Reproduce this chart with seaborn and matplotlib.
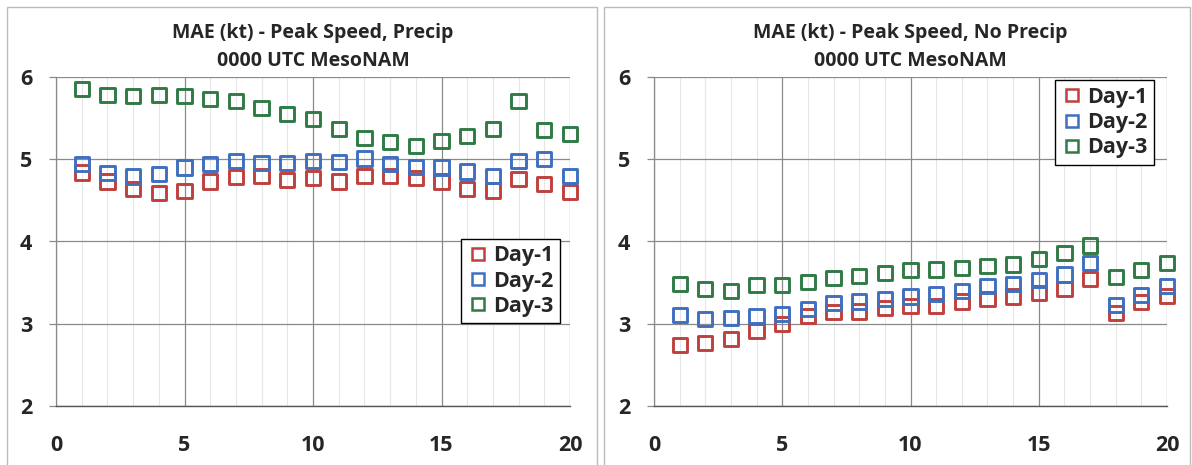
import numpy as np
import pandas as pd
import matplotlib
matplotlib.use("Agg")
import matplotlib.pyplot as plt
from matplotlib.patches import Rectangle
from matplotlib.lines import Line2D
from matplotlib.ticker import MultipleLocator
from matplotlib import font_manager
import seaborn as sns

hours = list(range(1, 21))
series_names = ["Day-1", "Day-2", "Day-3"]

precip_day1 = [4.84, 4.73, 4.64, 4.59, 4.61, 4.73, 4.78, 4.80, 4.75, 4.77,
               4.73, 4.80, 4.80, 4.77, 4.73, 4.64, 4.62, 4.76, 4.70, 4.60]
precip_day2 = [4.94, 4.83, 4.79, 4.82, 4.90, 4.94, 4.98, 4.95, 4.95, 4.98,
               4.97, 5.01, 4.94, 4.91, 4.90, 4.85, 4.80, 4.98, 5.00, 4.80]
precip_day3 = [5.85, 5.78, 5.77, 5.78, 5.77, 5.73, 5.71, 5.62, 5.55, 5.49,
               5.37, 5.26, 5.21, 5.16, 5.22, 5.28, 5.37, 5.71, 5.36, 5.31]

noprecip_day1 = [2.74, 2.77, 2.81, 2.91, 3.00, 3.09, 3.14, 3.15, 3.19, 3.22,
                 3.22, 3.27, 3.30, 3.33, 3.37, 3.42, 3.54, 3.13, 3.26, 3.34]
noprecip_day2 = [3.11, 3.06, 3.07, 3.09, 3.12, 3.18, 3.25, 3.27, 3.30, 3.33,
                 3.36, 3.40, 3.46, 3.48, 3.53, 3.60, 3.74, 3.23, 3.35, 3.46]
noprecip_day3 = [3.48, 3.42, 3.40, 3.47, 3.47, 3.51, 3.56, 3.58, 3.62, 3.65,
                 3.66, 3.68, 3.70, 3.72, 3.79, 3.86, 3.95, 3.57, 3.65, 3.74]

titles = ["MAE (kt) - Peak Speed, Precip\n0000 UTC MesoNAM",
          "MAE (kt) - Peak Speed, No Precip\n0000 UTC MesoNAM"]
x_ticks = [0, 5, 10, 15, 20]
y_ticks = [2, 3, 4, 5, 6]

colors = {"Day-1": "#C0403D", "Day-2": "#3F6FBF", "Day-3": "#2F7A45"}


def to_long(d1, d2, d3):
    frames = []
    for name, vals in zip(series_names, [d1, d2, d3]):
        frames.append(pd.DataFrame({"hour": hours, "mae": vals, "series": name}))
    return pd.concat(frames, ignore_index=True)


sns.set_theme(style="white")
plt.rcParams["font.family"] = ["Open Sans", "DejaVu Sans"]
FONT = "Open Sans"

fig = plt.figure(figsize=(11.92, 4.65), dpi=100)
W, H = 1192, 465

# panel frames
for (x0, x1) in [(7, 597), (604, 1190)]:
    fig.patches.append(Rectangle((x0 / W, -0.01), (x1 - x0) / W, (H - 7) / H + 0.01,
                                 transform=fig.transFigure, fill=False,
                                 edgecolor="#BBBBBB", linewidth=1.0))

ax_pos = [[56 / W, 59 / H, 514 / W, 329 / H],
          [654 / W, 59 / H, 513 / W, 329 / H]]
data_sets = [to_long(precip_day1, precip_day2, precip_day3),
             to_long(noprecip_day1, noprecip_day2, noprecip_day3)]
leg_anchor = [(0.98, 0.508), (0.975, 0.99)]


def fp(size):
    return font_manager.FontProperties(family=FONT, weight="bold", size=size)


for i in range(2):
    ax = fig.add_axes(ax_pos[i])
    sns.scatterplot(data=data_sets[i], x="hour", y="mae", hue="series",
                    palette=colors, marker="s", s=105,
                    linewidth=2.1, ax=ax, zorder=3, legend=False)
    for coll in ax.collections:
        fc = coll.get_facecolors()
        coll.set_edgecolors(fc)
        coll.set_facecolor("none")
        coll.set_clip_on(False)
    ax.set_xlim(0, 20)
    ax.set_ylim(2, 6)
    ax.set_xticks(x_ticks)
    ax.set_yticks(y_ticks)
    ax.xaxis.set_minor_locator(MultipleLocator(1))
    ax.grid(True, which="major", color="#8A8A8A", linewidth=0.9)
    ax.grid(True, which="minor", axis="x", color="#E6E6E6", linewidth=0.8)
    ax.set_axisbelow(True)
    for side in ["top", "right"]:
        ax.spines[side].set_visible(False)
    ax.spines["left"].set_color("#8A8A8A")
    ax.spines["bottom"].set_color("#555555")
    ax.spines["left"].set_linewidth(0.9)
    ax.spines["bottom"].set_linewidth(1.0)
    ax.tick_params(axis="y", which="major", left=True, length=5, width=0.9,
                   color="#8A8A8A", pad=12)
    ax.tick_params(axis="x", which="both", bottom=False, pad=15)
    for lab in ax.get_xticklabels() + ax.get_yticklabels():
        lab.set_fontproperties(fp(15.5))
    ax.set_xlabel("")
    ax.set_ylabel("")
    ax.set_title(titles[i], fontproperties=fp(14), pad=8, linespacing=1.5)
    new_handles = [Line2D([], [], marker="s", linestyle="none", markersize=9,
                          markerfacecolor="none", markeredgewidth=1.8,
                          markeredgecolor=colors[n]) for n in series_names]
    leg = ax.legend(new_handles, series_names, loc="upper right",
                    bbox_to_anchor=leg_anchor[i], frameon=True, fancybox=False,
                    edgecolor="black", framealpha=1, prop=fp(15.5),
                    handletextpad=0.2, handlelength=1.0, borderpad=0.3,
                    labelspacing=0.2, borderaxespad=0)
    leg.get_frame().set_linewidth(1.0)

fig.savefig("out.png", dpi=100)
